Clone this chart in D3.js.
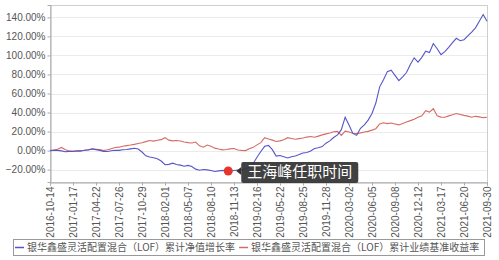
<!DOCTYPE html>
<html>
<head>
<meta charset="utf-8">
<script src="https://cdn.jsdelivr.net/npm/d3@7"></script>
<style>
  body { margin: 0; background: #fff; }
  svg { display: block; font-family: "Liberation Sans", Arial, sans-serif; }
</style>
</head>
<body>
<svg id="chart" width="499" height="260"></svg>
<script>
// x axis labels, one every 6 samples
const tickLabels = [
  "2016-10-14", "2017-01-17", "2017-04-22", "2017-07-26", "2017-10-29",
  "2018-02-01", "2018-05-07", "2018-08-10", "2018-11-13", "2019-02-16",
  "2019-05-22", "2019-08-25", "2019-11-28", "2020-03-02", "2020-06-05",
  "2020-09-08", "2020-12-12", "2021-03-17", "2021-06-20", "2021-09-30"
];
const samplesPerTick = 6;

// cumulative NAV growth (%)
const navGrowth = [
  0, 0.4, 0.2, -0.3, -1.2, -0.8, -0.9, -0.4, -0.6, 0.3,
  0.8, 1.6, 1.0, 0.2, -0.8, -1.0, -0.2, 0.4, 0.2, 0.9,
  1.1, 1.8, 2.5, 1.6, -1.5, -5.5, -6.8, -7.5, -8.6, -11.0,
  -14.8, -14.5, -13.2, -14.6, -15.3, -16.5, -15.6, -16.8, -19.5, -20.6,
  -19.8, -20.3, -21.0, -22.0, -21.3, -20.8, -21.4, -21.6, -21.0, -20.4,
  -19.8, -19.0, -17.5, -13.5, -7.0, -1.0, 4.5, 5.5, 1.0, -5.8,
  -5.2, -6.5, -7.8, -6.4, -5.6, -4.2, -2.6, -2.0, -0.5, 2.2,
  3.0, 4.2, 7.8, 10.2, 13.8, 16.5, 22.0, 35.0, 27.0, 18.0,
  16.0, 23.5, 27.0, 32.0, 39.0, 50.0, 67.0, 74.5, 83.0, 84.5,
  79.0, 73.5, 77.5, 82.0, 90.5, 97.5, 93.0, 98.0, 104.5, 103.0,
  112.5, 107.0, 100.8, 104.0, 108.5, 113.5, 118.0, 115.5, 116.5, 120.5,
  124.5, 129.0, 136.0, 143.0, 136.0
];

// cumulative benchmark return (%)
const benchmark = [
  0, 0.5, 1.5, 3.3, 0.8, -0.4, -0.6, -0.2, 0.1, 0.4,
  0.9, 1.8, 1.4, 1.0, 0.0, 0.8, 2.0, 3.2, 3.6, 4.5,
  5.2, 5.8, 6.5, 7.4, 8.2, 9.4, 10.6, 10.0, 10.8, 11.5,
  13.6, 11.0, 10.2, 10.6, 10.0, 9.0, 8.4, 8.0, 9.0, 5.0,
  3.6, 5.8, 4.6, 2.6, 1.6, 0.8, 1.2, 1.8, 2.2, 0.6,
  0.2, 0.0, 2.0, 3.4, 6.0, 8.4, 13.5, 12.2, 11.0, 9.5,
  10.2, 11.4, 13.6, 12.8, 12.0, 12.6, 13.2, 14.2, 14.8, 14.0,
  15.2, 16.5, 17.6, 18.5, 19.8, 20.2, 16.0, 20.5, 19.6, 18.3,
  17.8, 18.6, 19.5, 20.2, 21.5, 23.0, 28.0, 29.2, 28.4, 29.0,
  28.0, 27.0, 28.5, 30.0, 31.5, 33.0, 35.0, 36.5, 42.0, 40.5,
  44.0, 36.5, 35.2, 35.0, 36.5, 37.6, 39.0, 38.0, 37.0, 36.2,
  35.0, 36.0, 35.4, 34.6, 35.0
];

const yTicks = [-20, 0, 20, 40, 60, 80, 100, 120, 140];
const seriesNames = [
  "银华鑫盛灵活配置混合（LOF）累计净值增长率",
  "银华鑫盛灵活配置混合（LOF）累计业绩基准收益率"
];
const markerIndex = 46.5;
const markerValue = -21.5;
const markerText = "王海峰任职时间";

const blue = "#5656c8";
const red = "#d46c65";

const width = 499, height = 260;
const margin = { top: 5, right: 12, bottom: 78, left: 50 };
const svg = d3.select("#chart");

const x = d3.scaleLinear()
  .domain([0, navGrowth.length - 1])
  .range([margin.left, width - margin.right]);
const y = d3.scaleLinear()
  .domain([-33, 153])
  .range([height - margin.bottom, margin.top]);

// grid
svg.append("g")
  .selectAll("line")
  .data(yTicks)
  .join("line")
  .attr("x1", margin.left)
  .attr("x2", width - margin.right + 1)
  .attr("y1", (d) => Math.round(y(d)) + 0.5)
  .attr("y2", (d) => Math.round(y(d)) + 0.5)
  .attr("stroke", "#ebebeb");

// frame
svg.append("rect")
  .attr("x", margin.left + 0.5)
  .attr("y", margin.top + 0.5)
  .attr("width", width - margin.left - margin.right)
  .attr("height", height - margin.top - margin.bottom)
  .attr("fill", "none")
  .attr("stroke", "#cfcfcf");

// y axis
const yAxis = svg.append("g")
  .attr("transform", `translate(${margin.left + 0.5},0)`)
  .call(d3.axisLeft(y).tickValues(yTicks).tickSize(3)
    .tickFormat((d) => d3.format(".2f")(d) + "%"));
yAxis.select(".domain").attr("stroke", "#aaa");
yAxis.selectAll(".tick line").attr("stroke", "#aaa");
yAxis.selectAll("text").attr("fill", "#555").attr("font-size", 10).attr("x", -5);

// x axis
const tickIdx = tickLabels.map((d, i) => i * samplesPerTick);
const xAxis = svg.append("g")
  .attr("transform", `translate(0,${height - margin.bottom + 0.5})`)
  .call(d3.axisBottom(x).tickValues(tickIdx).tickSize(3)
    .tickFormat((d, i) => tickLabels[i]));
xAxis.select(".domain").attr("stroke", "#aaa");
xAxis.selectAll(".tick line").attr("stroke", "#aaa");
xAxis.selectAll("text")
  .attr("fill", "#555")
  .attr("font-size", 10)
  .attr("transform", "rotate(-90)")
  .attr("text-anchor", "end")
  .attr("x", -4)
  .attr("y", 0)
  .attr("dy", "0.35em");

// lines
const line = d3.line()
  .x((d, i) => x(i))
  .y((d) => y(d));

svg.append("path")
  .datum(benchmark)
  .attr("fill", "none")
  .attr("stroke", red)
  .attr("stroke-width", 1.1)
  .attr("d", line);

svg.append("path")
  .datum(navGrowth)
  .attr("fill", "none")
  .attr("stroke", blue)
  .attr("stroke-width", 1.1)
  .attr("d", line);

// annotation
const mx = x(markerIndex), my = y(markerValue);
svg.append("circle")
  .attr("cx", mx)
  .attr("cy", my)
  .attr("r", 4.5)
  .attr("fill", "#e6352b");

const boxX = mx + 13;
const ann = svg.append("g");
ann.append("path")
  .attr("d", `M${boxX},${my - 4}L${boxX - 5},${my}L${boxX},${my + 4}Z`)
  .attr("fill", "#333");
const annText = ann.append("text")
  .attr("x", boxX + 6)
  .attr("y", my + 6)
  .attr("fill", "#fff")
  .attr("font-size", 15)
  .attr("font-family", "'Noto Sans CJK SC', sans-serif")
  .text(markerText);
const tw = annText.node().getComputedTextLength();
ann.insert("rect", "text")
  .attr("x", boxX)
  .attr("y", my - 9)
  .attr("width", tw + 12)
  .attr("height", 21)
  .attr("rx", 2)
  .attr("fill", "#333")
  .attr("fill-opacity", 0.93);

// legend
const legendY = 247.5;
const legend = svg.append("g")
  .attr("font-family", "'Noto Sans CJK SC', sans-serif")
  .attr("font-size", 10);
legend.append("rect")
  .attr("x", 13.5)
  .attr("y", 239.5)
  .attr("width", 471)
  .attr("height", 16)
  .attr("fill", "none")
  .attr("stroke", "#999");

let lx = 15;
[blue, red].forEach((c, i) => {
  legend.append("line")
    .attr("x1", lx).attr("x2", lx + 9)
    .attr("y1", legendY).attr("y2", legendY)
    .attr("stroke", c).attr("stroke-width", 1.5);
  const t = legend.append("text")
    .attr("x", lx + 12)
    .attr("y", legendY + 3.5)
    .attr("fill", "#555")
    .text(seriesNames[i]);
  lx += 12 + t.node().getComputedTextLength() + 4;
});
</script>
</body>
</html>
